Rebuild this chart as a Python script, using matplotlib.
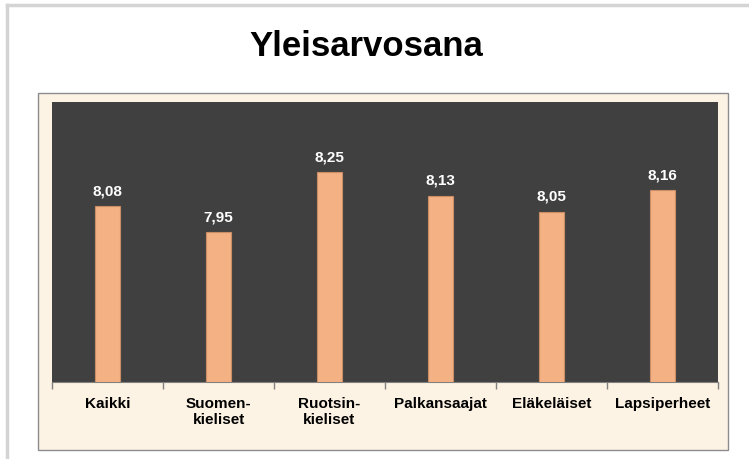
import numpy as np
import matplotlib.pyplot as plt
from matplotlib.patches import Rectangle
from matplotlib.lines import Line2D

plt.rcParams['font.family'] = ['Liberation Sans', 'DejaVu Sans']

# Data
categories = ['Kaikki', 'Suomen-\nkieliset', 'Ruotsin-\nkieliset',
              'Palkansaajat', 'Eläkeläiset', 'Lapsiperheet']
values = [8.08, 7.95, 8.25, 8.13, 8.05, 8.16]
labels = ['8,08', '7,95', '8,25', '8,13', '8,05', '8,16']

def main():
    W, H = 749, 460
    fig = plt.figure(figsize=(W / 100, H / 100), dpi=100, facecolor='white')

    # outer frame lines (top and left)
    fig.add_artist(Line2D([7 / W, 7 / W], [0, 1 - 6 / H], color='#d4d4d4', lw=2.5, zorder=-2))
    fig.add_artist(Line2D([7 / W, 1], [1 - 6 / H, 1 - 6 / H], color='#d4d4d4', lw=2.5, zorder=-2))

    # cream chart panel (behind the axes)
    fig.add_artist(Rectangle((38 / W, 1 - 451 / H), 690 / W, 357 / H,
                             facecolor='#fdf3e4', edgecolor='#8c8c8c', lw=1, zorder=-1))

    fig.text(366 / W, 1 - 46 / H, 'Yleisarvosana', ha='center', va='center',
             fontsize=25, fontweight='bold')

    ax = fig.add_axes([52 / W, 1 - 383 / H, 666 / W, 280 / H])
    ax.set_facecolor('#404040')
    x = np.arange(len(categories))
    ax.bar(x, [v - 7.2 for v in values], bottom=7.2, width=0.22,
           color='#f4b183', edgecolor='#c98e66', lw=0.8, zorder=3)
    for xi, v, lab in zip(x, values, labels):
        ax.text(xi, v + 0.045, lab, ha='center', va='bottom', color='white',
                fontsize=11, fontweight='bold')

    ax.set_xlim(-0.5, len(categories) - 0.5)
    ax.set_ylim(7.2, 8.6)
    ax.set_yticks([])
    ax.set_xticks(x)
    ax.set_xticklabels(categories, fontsize=11, fontweight='bold', linespacing=1.15,
                       va='top')
    ax.tick_params(axis='x', length=0, pad=10)
    ax.set_xticks(np.arange(len(categories) + 1) - 0.5, minor=True)
    ax.tick_params(axis='x', which='minor', length=5, color='#808080', width=1)
    for s in ['top', 'left', 'right']:
        ax.spines[s].set_visible(False)
    ax.spines['bottom'].set_color('#808080')

    fig.savefig('out.png', dpi=100, facecolor='white')

main()
